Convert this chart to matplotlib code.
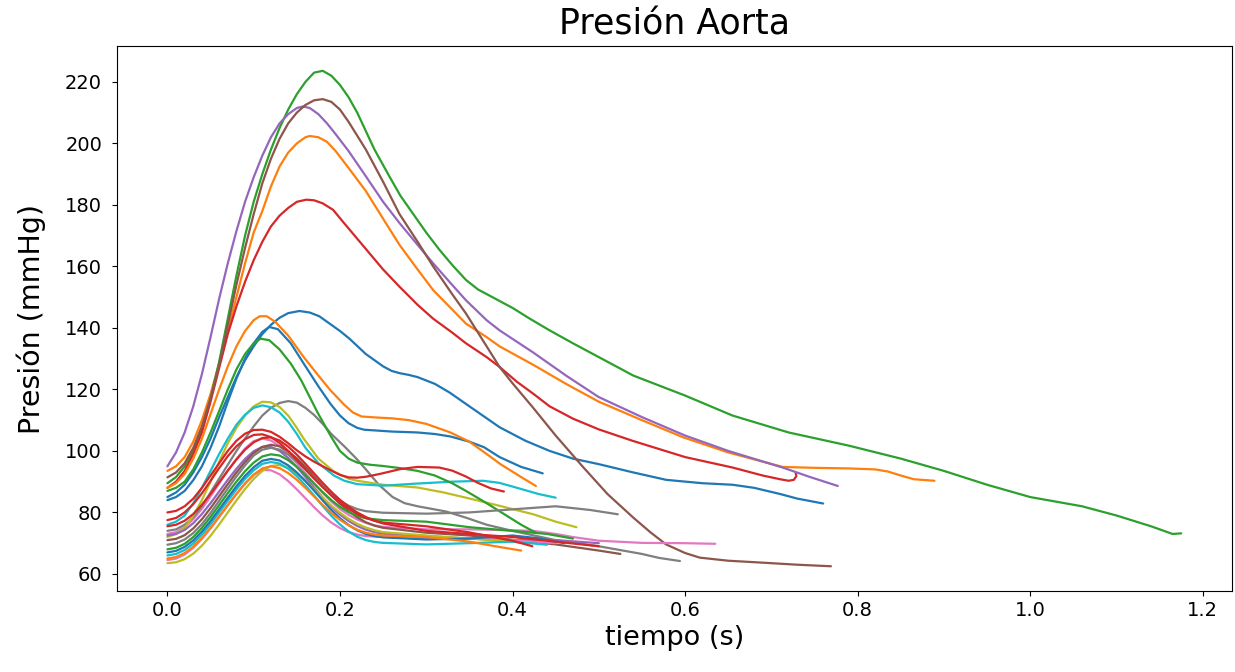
import matplotlib
matplotlib.use("Agg")
import matplotlib.pyplot as plt

# --- high curves (peak > 130 mmHg) ---
t_green_a = [0, 0.01, 0.02, 0.03, 0.04, 0.05, 0.06, 0.07, 0.08, 0.09, 0.10, 0.11, 0.12, 0.13, 0.14, 0.15,
             0.16, 0.17, 0.18, 0.19, 0.20, 0.21, 0.22, 0.23, 0.24, 0.257, 0.27, 0.28, 0.29, 0.30, 0.315,
             0.33, 0.346, 0.36, 0.38, 0.40, 0.42, 0.443, 0.47, 0.5, 0.54, 0.6, 0.655, 0.72, 0.79, 0.85,
             0.9, 0.95, 1.0, 1.03, 1.06, 1.1, 1.14, 1.165, 1.175]
p_green_a = [89.5, 91.5, 95, 100, 107, 117, 129, 143, 157, 170, 181, 190, 198, 205, 211, 216,
             220, 223, 223.6, 222, 219, 215, 210, 204, 198, 189.4, 183, 179, 175, 171, 165.5,
             160.5, 155.6, 152.5, 149.5, 146.5, 143, 139.2, 135, 130.5, 124.5, 118, 111.5, 106, 101.7, 97.5,
             93.5, 89, 85, 83.5, 82, 79, 75.5, 73, 73.2]

t_brown_b = [0, 0.01, 0.02, 0.03, 0.04, 0.05, 0.06, 0.07, 0.08, 0.09, 0.10, 0.11, 0.12, 0.13, 0.14, 0.15,
             0.16, 0.17, 0.18, 0.19, 0.20, 0.21, 0.22, 0.23, 0.25, 0.269, 0.29, 0.308, 0.33, 0.346, 0.37,
             0.385, 0.40, 0.424, 0.45, 0.481, 0.51, 0.54, 0.56, 0.578, 0.6, 0.617, 0.65, 0.694, 0.73, 0.769]
p_brown_b = [91.4, 93, 96, 101, 108, 117, 128, 141, 154, 166, 177, 187, 195, 201.5, 206.5, 210,
             212.5, 214, 214.4, 213.5, 211, 207, 202.5, 198, 187.5, 177, 168, 160, 151, 144.7, 134,
             127.3, 122, 114, 105, 95, 86, 78.3, 73.5, 69.6, 66.8, 65.3, 64.3, 63.6, 63, 62.5]

t_purple_c = [0, 0.01, 0.02, 0.03, 0.04, 0.05, 0.06, 0.07, 0.08, 0.09, 0.10, 0.11, 0.12, 0.13, 0.14, 0.15,
              0.157, 0.165, 0.175, 0.185, 0.195, 0.21, 0.23, 0.25, 0.269, 0.29, 0.308, 0.33, 0.346, 0.37,
              0.385, 0.424, 0.462, 0.5, 0.55, 0.6, 0.65, 0.713, 0.745, 0.777]
p_purple_c = [95, 99.5, 106, 114.5, 125, 137, 149.5, 161, 171.5, 181, 189, 196, 202, 206.5, 209.5, 211.5,
              212, 211.5, 209.5, 206.5, 203, 197.5, 189.3, 181, 174.1, 167, 161, 154, 149, 142.5,
              139.2, 132, 124.5, 117.5, 111, 105, 100, 94.6, 91.5, 88.6]

t_orange_d = [0, 0.01, 0.02, 0.03, 0.04, 0.05, 0.06, 0.07, 0.08, 0.09, 0.10, 0.11, 0.12, 0.13, 0.14, 0.15,
              0.16, 0.165, 0.175, 0.185, 0.195, 0.21, 0.23, 0.25, 0.269, 0.29, 0.308, 0.33, 0.346, 0.37,
              0.385, 0.424, 0.462, 0.5, 0.55, 0.598, 0.65, 0.713, 0.75, 0.79, 0.82, 0.835, 0.85, 0.865, 0.889]
p_orange_d = [93.5, 95, 98, 103, 110, 118.5, 128.5, 139, 150, 161, 171, 178, 186, 192.5, 197, 200,
              202, 202.4, 202, 200.5, 197.5, 192, 184.5, 175.5, 167, 159, 152.3, 146, 141.4, 137,
              134, 128, 121.8, 116, 110, 104.4, 99.5, 94.8, 94.5, 94.3, 94, 93.3, 92, 90.8, 90.3]

t_red_e = [0, 0.01, 0.02, 0.03, 0.04, 0.05, 0.06, 0.07, 0.08, 0.09, 0.10, 0.11, 0.12, 0.13, 0.14, 0.15,
           0.161, 0.17, 0.18, 0.192, 0.205, 0.22, 0.235, 0.25, 0.269, 0.29, 0.308, 0.33, 0.346, 0.37,
           0.385, 0.405, 0.424, 0.443, 0.47, 0.5, 0.539, 0.6, 0.655, 0.69, 0.71, 0.72, 0.726, 0.729, 0.728]
p_red_e = [88, 90, 93.5, 99, 106, 116, 127, 138, 147, 155, 162, 168, 173, 176.5, 179, 181,
           181.7, 181.5, 180.5, 178.4, 174, 169, 164, 159, 153.4, 147.5, 143, 138.5, 135, 130.5,
           127.3, 122.5, 118.6, 114.5, 110.5, 107, 103.3, 98, 94.6, 92, 90.8, 90.3, 90.6, 91.8, 93]

t_blue_f = [0, 0.01, 0.02, 0.03, 0.04, 0.05, 0.06, 0.07, 0.08, 0.09, 0.10, 0.11, 0.12, 0.13, 0.14, 0.153,
            0.165, 0.176, 0.19, 0.2, 0.211, 0.23, 0.25, 0.26, 0.269, 0.28, 0.29, 0.31, 0.327, 0.35,
            0.385, 0.415, 0.443, 0.47, 0.5, 0.54, 0.578, 0.62, 0.655, 0.68, 0.71, 0.73, 0.76]
p_blue_f = [85, 86.5, 89, 93, 98, 104, 111, 117.5, 124, 129.5, 134, 138, 141, 143.3, 144.8, 145.5,
            145, 143.8, 141, 139, 136.5, 131.5, 127.5, 126, 125.3, 124.7, 124, 121.8, 119, 114.5,
            107.7, 103.3, 100, 97.5, 95.7, 93, 90.6, 89.5, 89, 88, 86, 84.5, 82.9]

t_orange_g = [0, 0.01, 0.02, 0.03, 0.04, 0.05, 0.06, 0.07, 0.08, 0.09, 0.10, 0.107, 0.115, 0.125, 0.14,
              0.158, 0.175, 0.189, 0.205, 0.215, 0.225, 0.24, 0.26, 0.28, 0.3, 0.328, 0.35, 0.37, 0.386,
              0.41, 0.427]
p_orange_g = [88, 89.5, 92.5, 97.5, 104, 112, 120, 127.5, 134, 139, 142.5, 143.8, 143.8, 142, 137.5,
              130.5, 124.5, 119.7, 115, 112.5, 111.2, 110.9, 110.6, 110, 108.8, 106, 103, 99, 95.7,
              91.5, 88.6]

t_blue_h = [0, 0.01, 0.02, 0.03, 0.04, 0.05, 0.06, 0.07, 0.08, 0.09, 0.10, 0.11, 0.118, 0.128, 0.143,
            0.158, 0.175, 0.189, 0.2, 0.21, 0.22, 0.228, 0.26, 0.29, 0.31, 0.328, 0.35, 0.367, 0.385,
            0.41, 0.435]
p_blue_h = [84, 85, 87, 90.5, 95, 101, 108, 116, 123.5, 130, 135, 138.7, 140.3, 139.6, 135,
            128.4, 121, 115.3, 111.5, 109, 107.5, 106.9, 106.3, 106, 105.5, 104.7, 103, 101.2, 98,
            94.8, 92.7]

t_green_i = [0, 0.01, 0.02, 0.03, 0.04, 0.05, 0.06, 0.07, 0.08, 0.09, 0.10, 0.108, 0.118, 0.13, 0.143,
             0.155, 0.165, 0.174, 0.19, 0.2, 0.21, 0.22, 0.235, 0.25, 0.27, 0.29, 0.31, 0.33, 0.346,
             0.37, 0.39, 0.41, 0.427]
p_green_i = [87, 88, 90, 94, 99.5, 106, 113, 120, 126.5, 131.5, 135, 136.5, 136, 133, 128.4,
             123, 117.5, 112.5, 104.5, 100, 97.5, 96.2, 95.5, 95.1, 94.4, 93.5, 92, 89.5, 87,
             83, 79.5, 76, 73.4]

# --- middle curves (peak ~115 mmHg) ---
t_olive_j = [0, 0.01, 0.02, 0.03, 0.04, 0.05, 0.06, 0.07, 0.08, 0.09, 0.10, 0.11, 0.12, 0.13, 0.14, 0.15,
             0.158, 0.175, 0.193, 0.21, 0.22, 0.25, 0.29, 0.32, 0.346, 0.38, 0.424, 0.45, 0.474]
p_olive_j = [72, 73, 75, 79, 84, 90, 96.5, 102.5, 107.5, 111.5, 114.5, 116, 115.8, 114.3, 111.5, 107.5,
             104, 97.5, 93.3, 91, 90.3, 89, 88.1, 86.5, 84.8, 82.5, 79.4, 77, 75.2]

t_cyan_k = [0, 0.01, 0.02, 0.03, 0.04, 0.05, 0.06, 0.07, 0.08, 0.09, 0.10, 0.11, 0.12, 0.13, 0.14, 0.15,
            0.16, 0.175, 0.193, 0.205, 0.22, 0.25, 0.29, 0.33, 0.366, 0.385, 0.404, 0.43, 0.45]
p_cyan_k = [76, 77, 79, 83, 88, 93.5, 99, 104, 108.5, 111.8, 114, 114.8, 114.2, 112.5, 109.5, 105.5,
            101, 96, 92, 90.3, 89.2, 88.7, 89.4, 90, 90.3, 89.6, 88.1, 86, 84.8]

t_gray_l = [0, 0.01, 0.02, 0.03, 0.04, 0.05, 0.06, 0.07, 0.08, 0.09, 0.10, 0.11, 0.12, 0.13, 0.14, 0.15,
            0.16, 0.17, 0.18, 0.19, 0.205, 0.219, 0.23, 0.245, 0.261, 0.275, 0.29, 0.323, 0.346, 0.37,
            0.4, 0.45, 0.5, 0.55, 0.57, 0.594]
p_gray_l = [74, 74.5, 76, 78.5, 82, 86.5, 91, 95.5, 100, 104, 108, 111.5, 114, 115.6, 116.2, 115.7,
            114, 111.7, 108.8, 105.5, 101.5, 97.5, 94, 89, 85, 83, 82, 80.3, 78.3, 76,
            74, 71, 69, 66.5, 65.2, 64.2]

# --- low cluster (peak 94-107 mmHg) ---
t_red_1 = [0, 0.01, 0.02, 0.03, 0.04, 0.05, 0.06, 0.07, 0.08, 0.09, 0.10, 0.11, 0.12, 0.13, 0.14, 0.15,
           0.16, 0.17, 0.18, 0.19, 0.20, 0.21, 0.22, 0.23, 0.246, 0.27, 0.29, 0.315, 0.33, 0.345, 0.36,
           0.375, 0.39]
p_red_1 = [80, 80.5, 82, 84.5, 88, 92, 96, 100, 103.3, 105.6, 106.8, 106.9, 106.2, 104.6, 102.5, 100.2,
           98.2, 96.5, 95, 93.6, 92.2, 91.4, 91.3, 91.6, 92.5, 94.1, 94.8, 94.6, 93.6, 91.8, 89.6,
           87.8, 86.8]

t_red_2 = [0, 0.01, 0.02, 0.03, 0.04, 0.05, 0.06, 0.07, 0.08, 0.09, 0.10, 0.11, 0.12, 0.13, 0.14, 0.15,
           0.16, 0.17, 0.18, 0.19, 0.2, 0.21, 0.22, 0.23, 0.24, 0.25, 0.3, 0.35, 0.4, 0.423]
p_red_2 = [77.5, 78.2, 80, 82.7, 86.2, 90.3, 94.4, 98.3, 101.5, 103.8, 105.2, 105.4, 104.5, 102.6, 100, 97,
           94, 91, 88.2, 85.5, 83.2, 81.2, 79.5, 78.2, 77.3, 76.7, 75.5, 73.5, 70.8, 69]

t_gray_m = [0, 0.01, 0.02, 0.03, 0.04, 0.05, 0.06, 0.07, 0.08, 0.09, 0.10, 0.11, 0.12, 0.13, 0.14, 0.15,
            0.16, 0.17, 0.18, 0.19, 0.2, 0.21, 0.22, 0.23, 0.25, 0.3, 0.35, 0.4, 0.45, 0.49, 0.522]
p_gray_m = [69.5, 70, 71.2, 73.3, 76.2, 79.8, 83.8, 87.8, 91.7, 95.3, 98.5, 100.4, 101, 100.4, 98.8, 96.6,
            94, 91.2, 88.4, 85.9, 83.8, 82.2, 81.1, 80.4, 79.9, 79.6, 80, 81, 82, 80.8, 79.4]

t_pink_1 = [0, 0.01, 0.02, 0.03, 0.04, 0.05, 0.06, 0.07, 0.08, 0.09, 0.10, 0.11, 0.12, 0.13, 0.14, 0.15,
            0.16, 0.17, 0.18, 0.19, 0.2, 0.21, 0.22, 0.23, 0.24, 0.25, 0.3, 0.35, 0.4, 0.424, 0.45,
            0.47, 0.5, 0.55, 0.6, 0.635]
p_pink_1 = [73, 73.6, 75.2, 77.8, 81.2, 85.2, 89.4, 93.6, 97.4, 100.8, 103.2, 104, 103.4, 101.6, 99, 96,
            92.7, 89.4, 86.3, 83.5, 81.1, 79.2, 77.7, 76.6, 75.8, 75.3, 74.5, 74.5, 74.2, 74, 73,
            72, 70.8, 70.1, 70, 69.8]

t_green_2 = [0, 0.01, 0.02, 0.03, 0.04, 0.05, 0.06, 0.07, 0.08, 0.09, 0.10, 0.11, 0.12, 0.13, 0.14, 0.15,
             0.16, 0.17, 0.18, 0.19, 0.2, 0.21, 0.22, 0.23, 0.25, 0.3, 0.35, 0.4, 0.44, 0.47]
p_green_2 = [68, 68.5, 69.8, 72, 75, 78.5, 82.4, 86.3, 90, 93.4, 96.2, 98.2, 98.9, 98.5, 97, 94.8,
             92.2, 89.4, 86.6, 84, 81.8, 80.1, 78.9, 78.1, 77.5, 77, 75.2, 74, 73, 71.5]

t_brown_2 = [0, 0.01, 0.02, 0.03, 0.04, 0.05, 0.06, 0.07, 0.08, 0.09, 0.10, 0.11, 0.12, 0.13, 0.14, 0.15,
             0.16, 0.17, 0.18, 0.19, 0.2, 0.21, 0.22, 0.23, 0.24, 0.25, 0.3, 0.35, 0.4, 0.45, 0.5, 0.525]
p_brown_2 = [71, 71.4, 72.6, 74.8, 77.8, 81.4, 85.3, 89.2, 93, 96.4, 99.3, 101.3, 102, 101.5, 99.9, 97.6,
             94.8, 91.7, 88.6, 85.6, 82.8, 80.4, 78.4, 76.8, 75.7, 75, 73.4, 72.5, 71.1, 69.6, 67.6, 66.5]

t_purple_2 = [0, 0.01, 0.02, 0.03, 0.04, 0.05, 0.06, 0.07, 0.08, 0.09, 0.10, 0.11, 0.12, 0.13, 0.14, 0.15,
              0.16, 0.17, 0.18, 0.19, 0.2, 0.21, 0.22, 0.23, 0.24, 0.25, 0.3, 0.35, 0.4, 0.45, 0.5]
p_purple_2 = [72.5, 73, 74.3, 76.5, 79.5, 83, 86.8, 90.6, 94.2, 97.4, 99.9, 101.3, 101.3, 100, 97.7, 94.8,
              91.5, 88.1, 84.8, 81.8, 79.3, 77.2, 75.6, 74.4, 73.6, 73.1, 72.3, 71.5, 71, 71, 70]

t_blue_2 = [0, 0.01, 0.02, 0.03, 0.04, 0.05, 0.06, 0.07, 0.08, 0.09, 0.10, 0.11, 0.12, 0.13, 0.14, 0.15,
            0.16, 0.17, 0.18, 0.19, 0.2, 0.21, 0.22, 0.23, 0.24, 0.25, 0.3, 0.35, 0.4, 0.43, 0.46]
p_blue_2 = [67, 67.5, 68.8, 70.9, 73.8, 77.2, 81, 84.8, 88.5, 91.9, 94.7, 96.8, 97.4, 96.9, 95.3, 93,
            90.2, 87.1, 83.9, 80.8, 78.1, 75.9, 74.2, 73, 72.3, 71.9, 71.2, 71.5, 72.5, 71.6, 70]

t_cyan_2 = [0, 0.01, 0.02, 0.03, 0.04, 0.05, 0.06, 0.07, 0.08, 0.09, 0.10, 0.11, 0.12, 0.13, 0.14, 0.15,
            0.16, 0.17, 0.18, 0.19, 0.2, 0.21, 0.22, 0.23, 0.24, 0.25, 0.3, 0.35, 0.4, 0.44]
p_cyan_2 = [66, 66.5, 67.8, 69.9, 72.8, 76.2, 80, 83.8, 87.5, 90.9, 93.7, 95.8, 96.4, 95.9, 94.2, 91.8,
            88.8, 85.5, 82.1, 78.9, 76.1, 73.8, 72.1, 71, 70.4, 70.1, 69.6, 70, 70.5, 69.5]

t_orange_2 = [0, 0.01, 0.02, 0.03, 0.04, 0.05, 0.06, 0.07, 0.08, 0.09, 0.10, 0.11, 0.12, 0.13, 0.14, 0.15,
              0.16, 0.17, 0.18, 0.19, 0.2, 0.21, 0.22, 0.23, 0.24, 0.25, 0.3, 0.35, 0.38, 0.41]
p_orange_2 = [65, 65.5, 66.8, 68.9, 71.7, 75, 78.7, 82.4, 86, 89.4, 92.3, 94.3, 95, 94.4, 92.8, 90.6,
              88, 85.2, 82.4, 79.8, 77.6, 75.8, 74.4, 73.4, 72.8, 72.5, 72, 70.5, 69, 67.6]

t_pink_2 = [0, 0.01, 0.02, 0.03, 0.04, 0.05, 0.06, 0.07, 0.08, 0.09, 0.10, 0.11, 0.12, 0.13, 0.14, 0.15,
            0.16, 0.17, 0.18, 0.19, 0.2, 0.21, 0.22, 0.23, 0.25, 0.3, 0.35, 0.4, 0.45]
p_pink_2 = [64.5, 65, 66.3, 68.5, 71.4, 74.8, 78.5, 82.3, 86, 89.4, 92.2, 93.8, 93.7, 92.4, 90.2, 87.5,
            84.6, 81.7, 79, 76.7, 74.9, 73.6, 72.8, 72.3, 72, 71.5, 71.5, 71, 70]

t_red_3 = [0, 0.01, 0.02, 0.03, 0.04, 0.05, 0.06, 0.07, 0.08, 0.09, 0.10, 0.11, 0.12, 0.13, 0.14, 0.15,
           0.16, 0.17, 0.18, 0.19, 0.2, 0.21, 0.22, 0.23, 0.24, 0.25, 0.3, 0.35, 0.4, 0.45, 0.5]
p_red_3 = [75.5, 76, 77.3, 79.5, 82.5, 86, 89.8, 93.6, 97.2, 100.4, 102.8, 104.2, 104.4, 103.4, 101.4, 98.8,
           95.8, 92.7, 89.6, 86.7, 84.1, 81.9, 80, 78.5, 77.3, 76.4, 74, 73, 72, 70.5, 69]

t_olive_2 = [0, 0.01, 0.02, 0.03, 0.04, 0.05, 0.06, 0.07, 0.08, 0.09, 0.10, 0.11, 0.12, 0.13, 0.14, 0.15,
             0.16, 0.17, 0.18, 0.19, 0.2, 0.21, 0.22, 0.23, 0.24, 0.25, 0.3, 0.35, 0.42]
p_olive_2 = [63.5, 63.8, 64.8, 66.6, 69.2, 72.4, 76.1, 80, 83.9, 87.6, 90.9, 93.5, 95.1, 95.4, 94.5, 92.6,
             90.2, 87.5, 84.8, 82.2, 79.9, 77.9, 76.3, 75.1, 74.2, 73.6, 72.5, 71.5, 70]

curves = [
    (t_blue_f, p_blue_f, "C0"), (t_orange_d, p_orange_d, "C1"), (t_green_a, p_green_a, "C2"),
    (t_red_e, p_red_e, "C3"), (t_purple_c, p_purple_c, "C4"), (t_brown_b, p_brown_b, "C5"),
    (t_pink_1, p_pink_1, "C6"), (t_gray_l, p_gray_l, "C7"), (t_olive_j, p_olive_j, "C8"),
    (t_cyan_k, p_cyan_k, "C9"), (t_blue_h, p_blue_h, "C0"), (t_orange_g, p_orange_g, "C1"),
    (t_green_i, p_green_i, "C2"), (t_red_1, p_red_1, "C3"), (t_purple_2, p_purple_2, "C4"),
    (t_brown_2, p_brown_2, "C5"), (t_pink_2, p_pink_2, "C6"), (t_gray_m, p_gray_m, "C7"),
    (t_olive_2, p_olive_2, "C8"), (t_cyan_2, p_cyan_2, "C9"), (t_blue_2, p_blue_2, "C0"),
    (t_orange_2, p_orange_2, "C1"), (t_green_2, p_green_2, "C2"), (t_red_2, p_red_2, "C3"),
    (t_red_3, p_red_3, "C3"),
]

fig = plt.figure(figsize=(12.35, 6.72), dpi=100)
ax = fig.add_axes([0.0945, 0.1205, 0.903, 0.811])

for t, p, c in curves:
    ax.plot(t, p, color=c, lw=1.6, solid_joinstyle='round', solid_capstyle='round')

ax.set_title('Presión Aorta', fontsize=25, pad=8)
ax.set_xlabel('tiempo (s)', fontsize=19.5)
ax.set_ylabel('Presión (mmHg)', fontsize=20.5, labelpad=14)
ax.tick_params(labelsize=14)
ax.tick_params(axis='y', pad=7)

fig.savefig('out.png', dpi=100)
